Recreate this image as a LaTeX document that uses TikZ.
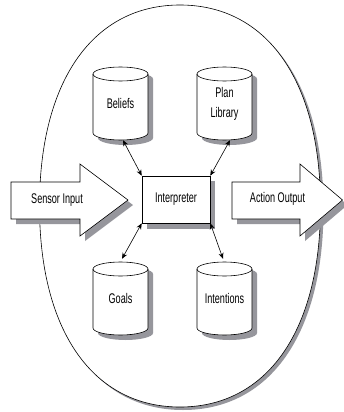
\documentclass[tikz,border=0pt]{standalone}
\usepackage{fontspec}
\newfontfamily\narrowsans[FakeStretch=0.65]{Liberation Sans}
\usetikzlibrary{arrows.meta}
\definecolor{shadowgray}{RGB}{150,150,156}
\begin{document}
\begin{tikzpicture}[x=1pt,y=-1pt,
  lbl/.style={font=\narrowsans\fontsize{14}{20}\selectfont, inner sep=0pt, align=center},
  outline/.style={draw=black, line width=0.6pt, fill=white},
  dropfill/.style={fill=shadowgray, draw=none},
  cylnode/.style={lbl, minimum width=55pt, minimum height=73pt},
  boxnode/.style={lbl, draw=black, line width=0.6pt, fill=white, minimum width=68pt, minimum height=47pt},
  link/.style={{Stealth[length=6pt,width=5pt]}-{Stealth[length=6pt,width=5pt]}, line width=0.6pt},
  pics/dbcyl/.style={code={
    \path[dropfill,shift={(5,5)}] (-27.5,-29.5) -- (-27.5,29.5)
      arc[start angle=180,end angle=360,x radius=27.5pt,y radius=7pt]
      -- (27.5,-29.5) arc[start angle=0,end angle=180,x radius=27.5pt,y radius=7pt] -- cycle;
    \path[outline] (-27.5,-29.5) -- (-27.5,29.5)
      arc[start angle=180,end angle=360,x radius=27.5pt,y radius=7pt]
      -- (27.5,-29.5) arc[start angle=0,end angle=180,x radius=27.5pt,y radius=7pt] -- cycle;
    \draw[line width=0.6pt] (-27.5,-29.5) arc[start angle=180,end angle=360,x radius=27.5pt,y radius=7pt];
  }}]
\useasboundingbox (0,0) rectangle (343,412);

% outer agent boundary with shadow
\path[dropfill,shift={(3,3)}] (180,5) .. controls (93,5) and (39.5,81) .. (39.5,206)
  .. controls (39.5,331) and (93,407) .. (180,407)
  .. controls (267,407) and (320.5,331) .. (320.5,206)
  .. controls (320.5,81) and (267,5) .. (180,5) -- cycle;
\path[outline] (180,5) .. controls (93,5) and (39.5,81) .. (39.5,206)
  .. controls (39.5,331) and (93,407) .. (180,407)
  .. controls (267,407) and (320.5,331) .. (320.5,206)
  .. controls (320.5,81) and (267,5) .. (180,5) -- cycle;

% big arrows
\path[dropfill,shift={(5,5)}] (11,182) -- (80,182) -- (80,164) -- (128,200) -- (80,236) -- (80,219) -- (11,219) -- cycle;
\path[outline] (11,182) -- (80,182) -- (80,164) -- (128,200) -- (80,236) -- (80,219) -- (11,219) -- cycle;
\node[lbl] (sensor) at (57,200) {Sensor Input};

\path[dropfill,shift={(5,5)}] (232,182) -- (300,182) -- (300,164) -- (342.5,200) -- (300,236) -- (300,219) -- (232,219) -- cycle;
\path[outline] (232,182) -- (300,182) -- (300,164) -- (342.5,200) -- (300,236) -- (300,219) -- (232,219) -- cycle;
\node[lbl] (action) at (277.5,199) {Action Output};

% cylinders
\pic at (120.5,103.5) {dbcyl};
\pic at (224.5,103.5) {dbcyl};
\pic at (120.5,298.5) {dbcyl};
\pic at (224.5,298.5) {dbcyl};
\node[cylnode] (beliefs) at (120.5,103.5) {Beliefs};
\node[cylnode] (plan) at (224.5,103.5) {Plan\\Library};
\node[cylnode] (goals) at (120.5,298.5) {Goals};
\node[cylnode] (intentions) at (224.5,298.5) {Intentions};

% interpreter
\path[dropfill] (147,181) rectangle (215,228.5);
\node[boxnode] (interp) at (176,199.5) {Interpreter};

% links
\draw[link] ([xshift=2.5pt]beliefs.south) -- (interp.north west);
\draw[link] ([xshift=5.5pt]plan.south) -- (interp.north east);
\draw[link] (interp.south west) -- ([xshift=1.5pt,yshift=3pt]goals.north);
\draw[link] (interp.south east) -- ([xshift=-1.5pt,yshift=3pt]intentions.north);
\end{tikzpicture}
\end{document}
